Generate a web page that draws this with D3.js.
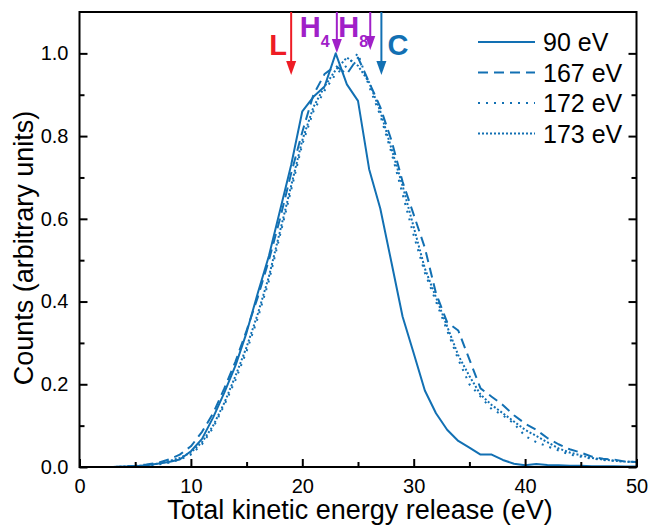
<!DOCTYPE html>
<html>
<head>
<meta charset="utf-8">
<script src="https://cdn.jsdelivr.net/npm/d3@7"></script>
<style>
  body { margin: 0; background: #fff; }
  text { font-family: "Liberation Sans", Arial, sans-serif; }
</style>
</head>
<body>
<script>
// kinetic energy grid (eV)
var energy = d3.range(0, 51);

var names = ["90 eV", "167 eV", "172 eV", "173 eV"];

var counts90 = [0, 0, 0, 0, 0.001, 0.002, 0.004, 0.008, 0.012, 0.018,
  0.038, 0.068, 0.12, 0.18, 0.245, 0.325, 0.42, 0.51, 0.62, 0.73,
  0.86, 0.895, 0.92, 1.0, 0.925, 0.885, 0.72, 0.625, 0.495, 0.364,
  0.275, 0.185, 0.13, 0.09, 0.063, 0.047, 0.03, 0.03, 0.017, 0.008,
  0.004, 0.007, 0.005, 0.004, 0.003, 0.003, 0.002, 0.002, 0.002, 0.001, 0.001];

var counts167 = [0, 0, 0, 0, 0.001, 0.003, 0.006, 0.01, 0.018, 0.03,
  0.05, 0.085, 0.13, 0.19, 0.255, 0.33, 0.41, 0.5, 0.6, 0.71,
  0.81, 0.9, 0.95, 0.97, 0.95, 0.99, 0.93, 0.87, 0.79, 0.69,
  0.61, 0.53, 0.42, 0.35, 0.33, 0.26, 0.19, 0.17, 0.15, 0.125,
  0.105, 0.09, 0.07, 0.055, 0.043, 0.035, 0.025, 0.02, 0.018, 0.013, 0.012];

var counts172 = [0, 0, 0, 0, 0, 0.001, 0.003, 0.006, 0.01, 0.018,
  0.03, 0.055, 0.095, 0.15, 0.21, 0.28, 0.36, 0.45, 0.56, 0.67,
  0.78, 0.86, 0.91, 0.95, 0.97, 1.0, 0.92, 0.85, 0.76, 0.66,
  0.56, 0.47, 0.4, 0.33, 0.26, 0.2, 0.17, 0.14, 0.125, 0.105,
  0.075, 0.06, 0.05, 0.04, 0.03, 0.025, 0.02, 0.017, 0.015, 0.013, 0.012];

var counts173 = [0, 0, 0, 0, 0.001, 0.002, 0.004, 0.008, 0.014, 0.022,
  0.035, 0.06, 0.1, 0.155, 0.22, 0.29, 0.37, 0.46, 0.57, 0.68,
  0.79, 0.87, 0.92, 0.96, 0.99, 0.97, 0.93, 0.86, 0.77, 0.68,
  0.58, 0.48, 0.41, 0.34, 0.27, 0.22, 0.175, 0.15, 0.13, 0.11,
  0.09, 0.075, 0.06, 0.045, 0.035, 0.028, 0.022, 0.018, 0.015, 0.013, 0.012];

var dashes = [null, "10,6", "2,6", "2,2"];

// marker arrows: label, subscript, energy, colour
var markers = [
  {label: "L", sub: "", e: 19.0, color: "#ee1c25"},
  {label: "H", sub: "4", e: 23.1, color: "#a020c8"},
  {label: "H", sub: "8", e: 26.1, color: "#a020c8"},
  {label: "C", sub: "", e: 27.1, color: "#1270b3"}
];

var xTicks = [0, 10, 20, 30, 40, 50];
var yTicks = [0, 0.2, 0.4, 0.6, 0.8, 1.0];

var w = 652, h = 526;
var blue = "#1270b3";

var svg = d3.select("body").append("svg")
  .attr("width", w)
  .attr("height", h);

var x = d3.scaleLinear().domain([0, 50]).range([79.5, 636.5]);
var y = d3.scaleLinear().domain([0, 1.1]).range([467, 12]);

var series = [counts90, counts167, counts172, counts173];

var line = d3.line()
  .x(function(d, i) { return x(energy[i]); })
  .y(function(d) { return y(d); });

var clip = svg.append("defs").append("clipPath").attr("id", "plot")
  .append("rect")
  .attr("x", x(0)).attr("y", y(1.1))
  .attr("width", x(50) - x(0)).attr("height", y(0) - y(1.1));

svg.append("g").attr("clip-path", "url(#plot)")
  .selectAll("path")
  .data(series)
  .enter()
  .append("path")
  .attr("d", line)
  .attr("fill", "none")
  .attr("stroke", blue)
  .attr("stroke-width", 2)
  .attr("stroke-linejoin", "round")
  .attr("stroke-dasharray", function(d, i) { return dashes[i]; });

// axes: ticks point inward
var xAxis = d3.axisBottom(x).tickValues(d3.range(0, 51, 5))
  .tickSize(-7).tickPadding(12)
  .tickFormat(function(d) { return xTicks.indexOf(d) >= 0 ? d3.format("d")(d) : ""; });
var gx = svg.append("g").attr("transform", "translate(0," + y(0) + ")").call(xAxis);

var yAxis = d3.axisLeft(y).tickValues(d3.range(0, 1.05, 0.1))
  .tickSize(-7).tickPadding(11)
  .tickFormat(function(d) {
    return yTicks.some(function(t) { return Math.abs(t - d) < 1e-6; }) ? d3.format(".1f")(d) : "";
  });
var gy = svg.append("g").attr("transform", "translate(" + x(0) + ",0)").call(yAxis);

var yAxisR = d3.axisRight(y).tickValues(d3.range(0, 1.05, 0.1))
  .tickSize(-7).tickFormat("");
var gyr = svg.append("g").attr("transform", "translate(" + x(50) + ",0)").call(yAxisR);

[gx, gy, gyr].forEach(function(g) {
  g.select(".domain").remove();
  g.selectAll(".tick line").attr("stroke", "#000").attr("stroke-width", 2);
  g.selectAll(".tick text").attr("font-size", 20).attr("fill", "#000")
    .style("font-family", "'Liberation Sans', Arial, sans-serif");
});
// minor ticks shorter
gx.selectAll(".tick line").attr("y2", function(d) { return d % 10 === 0 ? -8 : -5; });
gy.selectAll(".tick line").attr("x2", function(d) { return Math.round(d * 10) % 2 === 0 ? 8 : 5; });
gyr.selectAll(".tick line").attr("x2", function(d) { return Math.round(d * 10) % 2 === 0 ? -8 : -5; });

svg.append("rect")
  .attr("x", x(0)).attr("y", y(1.1))
  .attr("width", x(50) - x(0)).attr("height", y(0) - y(1.1))
  .attr("fill", "none").attr("stroke", "#000").attr("stroke-width", 2);

svg.append("text")
  .attr("x", 360).attr("y", 519)
  .attr("text-anchor", "middle").attr("font-size", 27)
  .text("Total kinetic energy release (eV)");

svg.append("text")
  .attr("transform", "translate(33,248) rotate(-90)")
  .attr("text-anchor", "middle").attr("font-size", 27)
  .text("Counts (arbitrary units)");

// legend
var leg = svg.append("g").selectAll("g")
  .data(names).enter().append("g")
  .attr("transform", function(d, i) { return "translate(478," + (42 + i * 30.5) + ")"; });
leg.append("line")
  .attr("x1", 0).attr("x2", 57)
  .attr("stroke", blue).attr("stroke-width", 2)
  .attr("stroke-dasharray", function(d, i) { return dashes[i]; });
leg.append("text")
  .attr("x", 65).attr("y", 9)
  .attr("font-size", 25)
  .text(function(d) { return d; });

// arrows
var tipY = {L: 75, H4: 53, H8: 50, C: 75};
var mk = svg.append("g").selectAll("g")
  .data(markers).enter().append("g");
mk.append("line")
  .attr("x1", function(d) { return x(d.e); }).attr("x2", function(d) { return x(d.e); })
  .attr("y1", y(1.1))
  .attr("y2", function(d) { return tipY[d.label + d.sub] - 12; })
  .attr("stroke", function(d) { return d.color; }).attr("stroke-width", 2);
mk.append("path")
  .attr("d", function(d) {
    var cx = x(d.e), ty = tipY[d.label + d.sub];
    return "M" + (cx - 5) + "," + (ty - 14) + "L" + (cx + 5) + "," + (ty - 14) + "L" + cx + "," + ty + "Z";
  })
  .attr("fill", function(d) { return d.color; });
var lab = mk.append("text")
  .attr("x", function(d) {
    if (d.label === "L") return x(d.e) - 22;
    if (d.label === "C") return x(d.e) + 6;
    return x(d.e) + (d.sub === "8" ? -32 : -37);
  })
  .attr("y", function(d) { return d.label === "H" ? 37 : 55; })
  .attr("font-size", 29).attr("font-weight", "bold")
  .attr("fill", function(d) { return d.color; })
  .text(function(d) { return d.label; });
lab.filter(function(d) { return d.sub; })
  .append("tspan")
  .attr("dy", 10).attr("font-size", 16)
  .text(function(d) { return d.sub; });
</script>
</body>
</html>
